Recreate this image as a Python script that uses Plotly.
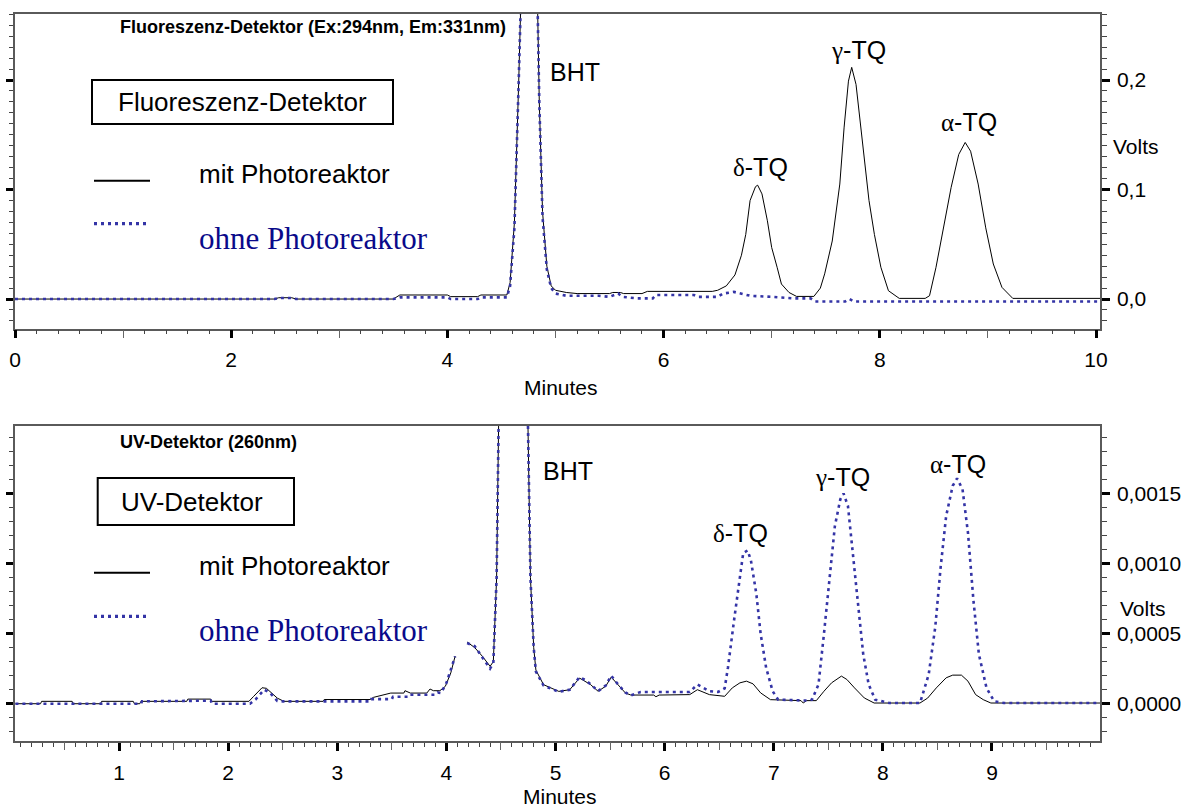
import plotly.graph_objects as go

# ---------------- data ----------------
# Fluorescence detector, (minutes, volts)
fl_mit = [(0.00, 0.0), (1.90, 0.0), (1.92, 0.0006), (1.95, 0.0), (2.40, 0.0), (2.44, 0.0012),
          (2.56, 0.0012), (2.60, 0.0), (3.50, 0.0), (3.56, 0.0037), (4.00, 0.0037), (4.03, 0.0022),
          (4.28, 0.0022), (4.31, 0.0037), (4.55, 0.0037), (4.58, 0.015), (4.62, 0.07), (4.66, 0.20),
          (4.70, 0.40), (4.755, 0.55), (4.81, 0.40), (4.85, 0.18), (4.88, 0.08), (4.92, 0.03),
          (4.96, 0.012), (5.00, 0.008), (5.10, 0.006), (5.20, 0.005), (5.50, 0.005), (5.53, 0.006),
          (5.60, 0.006), (5.63, 0.005), (5.80, 0.005), (5.85, 0.007), (6.45, 0.007), (6.50, 0.008),
          (6.58, 0.012), (6.66, 0.022), (6.72, 0.040), (6.76, 0.059), (6.80, 0.090), (6.85, 0.1026),
          (6.87, 0.104), (6.91, 0.096), (6.96, 0.0715), (7.00, 0.047), (7.05, 0.029), (7.09, 0.0137),
          (7.16, 0.006), (7.23, 0.0024), (7.39, 0.0024), (7.45, 0.010), (7.49, 0.023), (7.56, 0.053),
          (7.63, 0.105), (7.67, 0.157), (7.71, 0.199), (7.74, 0.2116), (7.78, 0.196), (7.83, 0.151),
          (7.90, 0.090), (7.95, 0.059), (8.01, 0.029), (8.08, 0.0076), (8.18, 0.0006), (8.42, 0.0006),
          (8.46, 0.003), (8.52, 0.029), (8.59, 0.065), (8.66, 0.102), (8.73, 0.132), (8.79, 0.143),
          (8.84, 0.135), (8.91, 0.105), (8.98, 0.065), (9.05, 0.032), (9.13, 0.0107), (9.23, 0.0006),
          (10.04, 0.0006)]

fl_ohne = [(0.00, 0.0), (1.90, 0.0), (1.92, 0.0005), (1.95, 0.0), (2.40, 0.0), (2.44, 0.0009),
           (2.56, 0.0009), (2.60, 0.0), (3.50, 0.0), (3.56, 0.0015), (4.00, 0.0015), (4.03, 0.0),
           (4.28, 0.0), (4.31, 0.0015), (4.55, 0.0015), (4.58, 0.012), (4.62, 0.065), (4.66, 0.20),
           (4.70, 0.40), (4.755, 0.55), (4.81, 0.40), (4.85, 0.18), (4.88, 0.075), (4.92, 0.027),
           (4.96, 0.010), (5.00, 0.005), (5.10, 0.003), (5.40, 0.003), (5.50, 0.002), (5.58, 0.005),
           (5.62, 0.002), (5.75, 0.0006), (5.90, 0.0006), (5.93, 0.0037), (6.28, 0.0037), (6.32, 0.002),
           (6.50, 0.002), (6.55, 0.005), (6.65, 0.0065), (6.72, 0.005), (6.80, 0.003), (7.00, 0.002),
           (7.20, 0.0006), (7.36, 0.0006), (7.40, -0.0022), (7.68, -0.0022), (7.72, 0.0),
           (7.76, -0.0022), (10.04, -0.0022)]

# UV detector, (minutes, volts); None = gap in the recording
uv_mit = [(0.05, 0.0), (0.28, 0.0), (0.29, 0.000017), (0.57, 0.000017), (0.58, 0.0), (0.83, 0.0),
          (0.84, 0.000017), (1.13, 0.000017), (1.14, 0.0), (1.19, 0.0), (1.20, 0.000017),
          (1.62, 0.000017), (1.63, 0.000033), (1.84, 0.000033), (1.85, 0.000017), (2.19, 0.000017),
          (2.23, 0.00005), (2.31, 0.000114), (2.35, 0.00011), (2.45, 0.00004), (2.51, 0.000017),
          (2.87, 0.000017), (2.88, 0.00003), (3.30, 0.00003), (3.33, 0.000045), (3.43, 0.000064),
          (3.49, 0.000076), (3.61, 0.000076), (3.62, 0.000093), (3.67, 0.000076), (3.82, 0.000076),
          (3.85, 0.000105), (3.88, 0.000093), (3.94, 0.000093), (3.99, 0.000124), (4.04, 0.00022),
          (4.08, 0.00034), (4.13, None), (4.19, 0.00044), (4.26, 0.0004), (4.33, 0.000338),
          (4.40, 0.000267), (4.43, 0.00030), (4.46, 0.0009), (4.48, 0.0021), (4.52, 0.006),
          (4.61, 0.012), (4.70, 0.006), (4.745, 0.0021), (4.77, 0.0009), (4.80, 0.0004),
          (4.82, 0.00024), (4.89, 0.000136), (5.03, 0.000088), (5.13, 0.0001), (5.22, 0.000183),
          (5.27, 0.00016), (5.32, 0.000137), (5.39, 0.000089), (5.46, 0.000125), (5.51, 0.00019),
          (5.56, 0.000149), (5.64, 0.000077), (5.69, 0.000062), (5.90, 0.000062), (5.92, 0.00005),
          (5.95, 0.000062), (6.23, 0.000065), (6.30, 0.0001), (6.41, 0.000065), (6.55, 0.000053),
          (6.62, 0.000113), (6.69, 0.000149), (6.75, 0.000161), (6.81, 0.000142), (6.88, 0.000077),
          (6.97, 0.000029), (7.25, 0.000022), (7.27, 0.000005), (7.30, 0.000022), (7.39, 0.000022),
          (7.46, 0.000089), (7.53, 0.000149), (7.62, 0.000197), (7.67, 0.000173), (7.74, 0.000113),
          (7.83, 0.000041), (7.92, 0.000005), (8.34, 0.000005), (8.41, 0.00004), (8.49, 0.000113),
          (8.58, 0.000185), (8.64, 0.000204), (8.72, 0.000204), (8.78, 0.000161), (8.85, 0.000065),
          (8.92, 0.000029), (8.99, 0.000005), (9.99, 0.000005)]

uv_ohne = [(0.05, 0.0), (1.20, 0.0), (1.21, 0.000017), (1.60, 0.000017), (1.61, 0.000022),
           (1.84, 0.000022), (1.85, 0.0), (2.20, 0.0), (2.25, 0.00003), (2.33, 0.0001), (2.38, 0.00008),
           (2.45, 0.00002), (2.50, 0.000017), (3.30, 0.000017), (3.31, 0.000033), (3.50, 0.000033),
           (3.51, 0.00005), (3.65, 0.00005), (3.66, 0.000064), (3.90, 0.000064), (3.92, 0.00008),
           (3.95, 0.000076), (4.00, 0.000148), (4.05, 0.000267), (4.08, 0.000338), (4.13, None),
           (4.19, 0.000433), (4.26, 0.00041), (4.33, 0.00033), (4.40, 0.00025), (4.43, 0.00029),
           (4.46, 0.0009), (4.48, 0.0021), (4.52, 0.006), (4.61, 0.012), (4.70, 0.006), (4.745, 0.0021),
           (4.77, 0.0009), (4.80, 0.0004), (4.82, 0.00023), (4.89, 0.00013), (5.03, 0.000085),
           (5.13, 0.0001), (5.22, 0.00019), (5.27, 0.00017), (5.32, 0.00014), (5.39, 0.00009),
           (5.46, 0.00013), (5.51, 0.0002), (5.56, 0.00015), (5.64, 0.00008), (5.69, 0.00006),
           (5.78, 0.000084), (6.23, 0.000084), (6.30, 0.000137), (6.41, 0.00009), (6.49, 0.000084),
           (6.55, 0.00011), (6.58, 0.000257), (6.64, 0.000618), (6.69, 0.00093), (6.72, 0.001075),
           (6.76, 0.001094), (6.79, 0.001026), (6.84, 0.000786), (6.88, 0.000498), (6.93, 0.000257),
           (6.99, 0.000089), (7.04, 0.000029), (7.32, 0.000022), (7.35, 0.000029), (7.41, 0.000137),
           (7.46, 0.000498), (7.51, 0.000906), (7.56, 0.001267), (7.61, 0.001459), (7.64, 0.0015),
           (7.68, 0.001411), (7.72, 0.001099), (7.77, 0.00069), (7.82, 0.000353), (7.87, 0.000137),
           (7.93, 0.000029), (8.06, 0.000005), (8.34, 0.000005), (8.35, 0.000029), (8.42, 0.000209),
           (8.48, 0.000546), (8.53, 0.000978), (8.58, 0.001339), (8.64, 0.001555), (8.68, 0.001608),
           (8.73, 0.001531), (8.78, 0.001219), (8.83, 0.000738), (8.88, 0.000353), (8.95, 0.000113),
           (9.02, 0.000017), (9.11, 0.000005), (9.99, 0.000005)]

fl_x_ticks = [0, 2, 4, 6, 8, 10]
uv_x_ticks = [1, 2, 3, 4, 5, 6, 7, 8, 9]
fl_y_ticks = [0.0, 0.1, 0.2]
uv_y_ticks = [0.0, 0.0005, 0.0010, 0.0015]
series_names = ["mit Photoreaktor", "ohne Photoreaktor"]
panel_titles = ["Fluoreszenz-Detektor (Ex:294nm, Em:331nm)", "UV-Detektor (260nm)"]
box_labels = ["Fluoreszenz-Detektor", "UV-Detektor"]
peak_names = ["BHT", "δ-TQ", "γ-TQ", "α-TQ"]

# ---------------- layout geometry (pixels) ----------------
W, H = 1181, 807
ML, MR, MT, MB = 15, 81, 14, 66
PW = W - ML - MR
PH = H - MT - MB
BOTTOM = H - MB


def px(x):
    return (x - ML) / PW


def py(y):
    return (BOTTOM - y) / PH


SANS = "Liberation Sans, Arial, sans-serif"
SERIF = "Liberation Serif, Times New Roman, serif"
BLUE = "#3434a6"
NAVY = "#0a0a8a"
AX = "#5a5a5a"
DOTS = "3px,4px"


def unzip(pairs):
    return [p[0] for p in pairs], [p[1] for p in pairs]


fig = go.Figure()

for (pairs, xa, ya, name, is_blue) in [
    (fl_mit, "x", "y", series_names[0], False),
    (fl_ohne, "x", "y", series_names[1], True),
    (uv_mit, "x2", "y2", series_names[0], False),
    (uv_ohne, "x2", "y2", series_names[1], True),
]:
    t, v = unzip(pairs)
    fig.add_trace(go.Scatter(
        x=t, y=v, mode="lines", name=name, xaxis=xa, yaxis=ya, showlegend=False,
        line=dict(color=BLUE if is_blue else "black", width=2.6 if is_blue else 1,
                  dash=DOTS if is_blue else "solid"),
        connectgaps=False, hoverinfo="skip"))

# invisible traces that create the overlay axes (medium ticks / left ticks)
for xa, ya in [("x3", "y"), ("x", "y3"), ("x4", "y2"), ("x2", "y4")]:
    fig.add_trace(go.Scatter(x=[None], y=[None], xaxis=xa, yaxis=ya, showlegend=False,
                             hoverinfo="skip", mode="lines"))

top_dom = [py(328.5), 1.0]
bot_dom = [0.0, py(425.7)]
fl_xr = [0.0, 10.037]
uv_xr = [0.046, 9.99]
fl_yr = [-0.0269, 0.2603]
uv_yr = [-0.000266, 0.001984]

tickfont = dict(family=SANS, size=21, color="black")


def xaxis_main(dom_anchor, rng, vals, minor_dtick):
    return dict(domain=[0, 1], anchor=dom_anchor, range=rng, tickmode="array", tickvals=vals,
                ticktext=[str(v) for v in vals], ticks="outside", ticklen=8, tickwidth=3,
                tickcolor="black", showline=True, linecolor=AX, linewidth=1.5, mirror=True,
                showgrid=False, zeroline=False, tickfont=tickfont, ticklabelstandoff=4,
                automargin=False,
                minor=dict(tickmode="linear", tick0=0, dtick=minor_dtick, ticks="outside",
                           ticklen=4, tickwidth=1, tickcolor="#444", showgrid=False))


def xaxis_mid(over, anchor, rng, t0, dt):
    return dict(overlaying=over, anchor=anchor, range=rng, tickmode="linear", tick0=t0, dtick=dt,
                ticks="outside", ticklen=8, tickwidth=1.2, tickcolor="#666", showticklabels=False,
                showline=False, showgrid=False, zeroline=False, automargin=False)


def yaxis_right(dom, rng, vals, fmt, minor_dtick):
    return dict(domain=dom, side="right", range=rng, tickmode="array", tickvals=vals,
                tickformat=fmt, ticks="outside", ticklen=8, tickwidth=3, tickcolor="black",
                showline=True, linecolor=AX, linewidth=1.5, showgrid=False, zeroline=False,
                tickfont=tickfont, ticklabelstandoff=3, automargin=False,
                minor=dict(tickmode="linear", tick0=0, dtick=minor_dtick, ticks="outside",
                           ticklen=5, tickwidth=1, tickcolor="#444", showgrid=False))


def yaxis_left(over, anchor, rng, vals, minor_dtick):
    return dict(overlaying=over, anchor=anchor, side="left", range=rng, tickmode="array",
                tickvals=vals, ticks="outside", ticklen=7, tickwidth=3, tickcolor="black",
                showticklabels=False, showline=True, linecolor=AX, linewidth=1.5,
                showgrid=False, zeroline=False, automargin=False,
                minor=dict(tickmode="linear", tick0=0, dtick=minor_dtick, ticks="outside",
                           ticklen=4, tickwidth=1, tickcolor="#444", showgrid=False))


fig.update_layout(
    width=W, height=H, margin=dict(l=ML, r=MR, t=MT, b=MB, autoexpand=False),
    paper_bgcolor="white", plot_bgcolor="white", separators=",.",
    font=dict(family=SANS, color="black"),
    xaxis=xaxis_main("y", fl_xr, fl_x_ticks, 0.2),
    xaxis2=xaxis_main("y2", uv_xr, uv_x_ticks, 0.1),
    xaxis3=xaxis_mid("x", "y", fl_xr, 1, 2),
    xaxis4=xaxis_mid("x2", "y2", uv_xr, 0.5, 1),
    yaxis=yaxis_right(top_dom, fl_yr, fl_y_ticks, ".1f", 0.01),
    yaxis2=yaxis_right(bot_dom, uv_yr, uv_y_ticks, ".4f", 0.0001),
    yaxis3=yaxis_left("y", "x", fl_yr, fl_y_ticks, 0.01),
    yaxis4=yaxis_left("y2", "x2", uv_yr, uv_y_ticks, 0.0001),
)

ann = []


def text(x, y, s, size, xanchor="center", family=SANS, color="black"):
    ann.append(dict(x=px(x), y=py(y), xref="paper", yref="paper", text=s, showarrow=False,
                    xanchor=xanchor, yanchor="middle", font=dict(family=family, size=size, color=color)))


def greek(label):
    return f'<span style="font-family:{SERIF}">{label[0]}</span>{label[1:]}'


shapes = []
panels = [
    dict(title_y=27, box=(92, 80, 393, 124), box_text=(242, 102), mit_line=180.7, ohne_line=223.7,
         mit_text=174.5, ohne_text=238.5,
         peaks=[(548, 71.5, "left"), (760, 166.7, "center"), (858, 50, "center"), (968.5, 121.7, "center")],
         volts=(1110.7, 146.7), minutes=(560.7, 387)),
    dict(title_y=441.7, box=(97.7, 478, 294, 525), box_text=(191.5, 502), mit_line=572.7,
         ohne_line=616.3, mit_text=566, ohne_text=630.3,
         peaks=[(541, 471, "left"), (740, 533, "center"), (842, 477, "center"), (958, 464, "center")],
         volts=(1118, 608), minutes=(560, 796)),
]

for i, p in enumerate(panels):
    text(118, p["title_y"], f"<b>{panel_titles[i]}</b>", 18, xanchor="left")
    x0, y0, x1, y1 = p["box"]
    shapes.append(dict(type="rect", xref="paper", yref="paper", x0=px(x0), y0=py(y0), x1=px(x1),
                       y1=py(y1), line=dict(color="black", width=2), fillcolor="rgba(0,0,0,0)"))
    text(p["box_text"][0], p["box_text"][1], box_labels[i], 26)
    shapes.append(dict(type="line", xref="paper", yref="paper", x0=px(94), x1=px(150),
                       y0=py(p["mit_line"]), y1=py(p["mit_line"]), line=dict(color="black", width=2)))
    shapes.append(dict(type="line", xref="paper", yref="paper", x0=px(94), x1=px(146),
                       y0=py(p["ohne_line"]), y1=py(p["ohne_line"]),
                       line=dict(color=BLUE, width=3.2, dash=DOTS)))
    text(196.7, p["mit_text"], series_names[0], 26, xanchor="left")
    text(196.7, p["ohne_text"], series_names[1], 31, xanchor="left", family=SERIF, color=NAVY)
    for (x, y, anc), name in zip(p["peaks"], peak_names):
        lab = name if name == "BHT" else greek(name)
        text(x, y, lab, 25, xanchor=anc)
    text(p["volts"][0], p["volts"][1], "Volts", 21, xanchor="left")
    text(p["minutes"][0], p["minutes"][1], "Minutes", 21)

fig.update_layout(annotations=ann, shapes=shapes)
fig.write_html("out.html")
